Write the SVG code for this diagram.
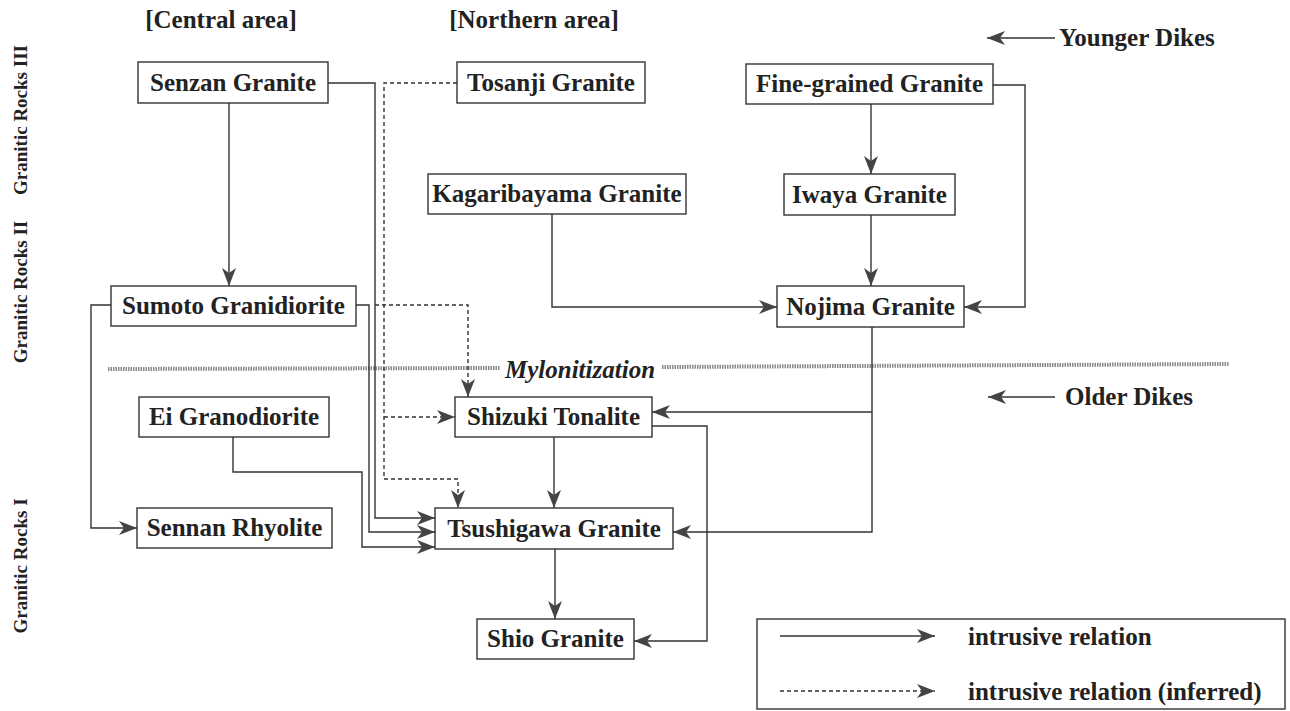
<svg xmlns="http://www.w3.org/2000/svg" width="1290" height="711" viewBox="0 0 1290 711">
<defs>
<style>
.box{fill:#fff;stroke:#333;stroke-width:1.4}
.t{font-family:"Liberation Serif","Times New Roman",serif;font-weight:bold;font-size:25px;fill:#222;text-anchor:middle}
.tl{font-family:"Liberation Serif","Times New Roman",serif;font-weight:bold;font-size:25px;fill:#222}
.side{font-family:"Liberation Serif","Times New Roman",serif;font-weight:bold;font-size:19px;fill:#222;text-anchor:middle}
.s{fill:none;stroke:#333;stroke-width:1.4}
.d{fill:none;stroke:#333;stroke-width:1.4;stroke-dasharray:4 3}
.myl{fill:none;stroke:#8a8a8a;stroke-width:4;stroke-dasharray:1.5 1}
</style>
<marker id="ah" markerUnits="userSpaceOnUse" markerWidth="20" markerHeight="16" refX="18" refY="7" orient="auto">
<path d="M0,0 L18,7 L0,14 L5,7 Z" fill="#444"/>
</marker>
</defs>
<rect width="1290" height="711" fill="#fff"/>

<g id="headers">
<text class="t" x="221" y="28">[Central area]</text>
<text class="t" x="534" y="28">[Northern area]</text>
<text class="tl" x="1059" y="46">Younger Dikes</text>
<text class="tl" x="1065" y="405">Older Dikes</text>
</g>

<g id="side-labels">
<text class="side" transform="translate(27,120) rotate(-90)">Granitic Rocks III</text>
<text class="side" transform="translate(27,292) rotate(-90)">Granitic Rocks II</text>
<text class="side" transform="translate(27,566) rotate(-90)">Granitic Rocks I</text>
</g>

<g id="mylonitization">
<path class="myl" d="M108,369 L500,368"/>
<path class="myl" d="M662,367 L1229,364"/>
<text class="tl" x="505" y="378" font-style="italic">Mylonitization</text>
</g>

<g id="connectors">
<path class="s" d="M1055,38 L987,38" marker-end="url(#ah)"/>
<path class="s" d="M1055,397 L988,397" marker-end="url(#ah)"/>
<path class="s" d="M229,103 L229,286" marker-end="url(#ah)"/>
<path class="s" d="M328,83 L375,83 L375,518 L435,518" marker-end="url(#ah)"/>
<path class="s" d="M356,305 L369,305 L369,532 L435,532" marker-end="url(#ah)"/>
<path class="s" d="M111,305 L91,305 L91,528 L137,528" marker-end="url(#ah)"/>
<path class="s" d="M233,437 L233,472 L362,472 L362,547 L435,547" marker-end="url(#ah)"/>
<path class="d" d="M457,83 L384,83 L384,479 L458,479 L458,508" marker-end="url(#ah)"/>
<path class="d" d="M384,417 L455,417" marker-end="url(#ah)"/>
<path class="d" d="M375,305 L468,305 L468,397" marker-end="url(#ah)"/>
<path class="s" d="M552,214 L552,307 L777,307" marker-end="url(#ah)"/>
<path class="s" d="M871,104 L871,174" marker-end="url(#ah)"/>
<path class="s" d="M871,215 L871,286" marker-end="url(#ah)"/>
<path class="s" d="M993,85 L1025,85 L1025,307 L964,307" marker-end="url(#ah)"/>
<path class="s" d="M872,327 L872,532 L673,532" marker-end="url(#ah)"/>
<path class="s" d="M872,412 L652,412" marker-end="url(#ah)"/>
<path class="s" d="M554,437 L554,508" marker-end="url(#ah)"/>
<path class="s" d="M652,426 L707,426 L707,641 L634,641" marker-end="url(#ah)"/>
<path class="s" d="M555,549 L555,619" marker-end="url(#ah)"/>
</g>

<g id="n-senzan"><rect class="box" x="138" y="62" width="190" height="41"/><text class="t" x="233" y="91">Senzan Granite</text></g>
<g id="n-tosanji"><rect class="box" x="457" y="62" width="188" height="41"/><text class="t" x="551" y="91">Tosanji Granite</text></g>
<g id="n-fine"><rect class="box" x="746" y="64" width="247" height="40"/><text class="t" x="869.5" y="92">Fine-grained Granite</text></g>
<g id="n-kagari"><rect class="box" x="428" y="174" width="258" height="40"/><text class="t" x="557" y="202">Kagaribayama Granite</text></g>
<g id="n-iwaya"><rect class="box" x="784" y="174" width="171" height="41"/><text class="t" x="869.5" y="203">Iwaya Granite</text></g>
<g id="n-sumoto"><rect class="box" x="111" y="286" width="245" height="40"/><text class="t" x="233.5" y="314">Sumoto Granidiorite</text></g>
<g id="n-nojima"><rect class="box" x="777" y="286" width="187" height="41"/><text class="t" x="870.5" y="315">Nojima Granite</text></g>
<g id="n-ei"><rect class="box" x="139" y="397" width="190" height="40"/><text class="t" x="234" y="425">Ei Granodiorite</text></g>
<g id="n-shizuki"><rect class="box" x="455" y="397" width="197" height="40"/><text class="t" x="553.5" y="425">Shizuki Tonalite</text></g>
<g id="n-sennan"><rect class="box" x="137" y="508" width="195" height="40"/><text class="t" x="234.5" y="536">Sennan Rhyolite</text></g>
<g id="n-tsushigawa"><rect class="box" x="435" y="508" width="238" height="41"/><text class="t" x="554" y="537">Tsushigawa Granite</text></g>
<g id="n-shio"><rect class="box" x="477" y="619" width="157" height="40"/><text class="t" x="555.5" y="647">Shio Granite</text></g>

<g id="legend">
<rect class="box" x="757" y="619" width="528" height="90"/>
<path class="s" d="M780,636 L935,636" marker-end="url(#ah)"/>
<text class="tl" x="968" y="645">intrusive relation</text>
<path class="d" d="M780,691 L935,691" marker-end="url(#ah)"/>
<text class="tl" x="968" y="700">intrusive relation (inferred)</text>
</g>
</svg>
